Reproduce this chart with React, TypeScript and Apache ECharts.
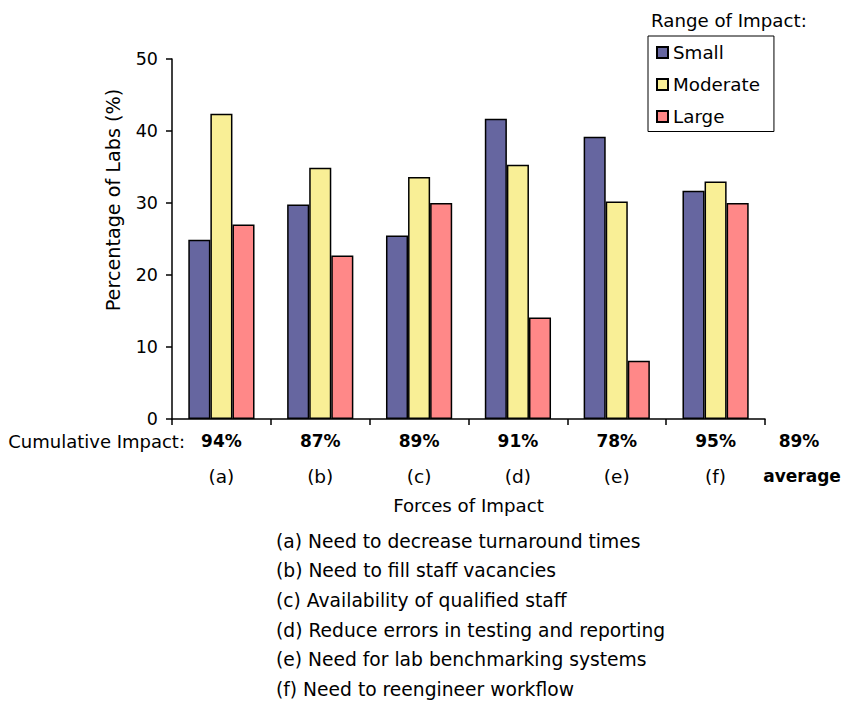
import React, { useEffect, useRef } from "react";
import * as echarts from "echarts";

const categories = ["(a)", "(b)", "(c)", "(d)", "(e)", "(f)"];
const cumulative = ["94%", "87%", "89%", "91%", "78%", "95%"];
const averageLabel = "89%";
const seriesNames = ["Small", "Moderate", "Large"];
const small = [24.9, 29.8, 25.5, 41.7, 39.2, 31.7];
const moderate = [42.4, 34.9, 33.6, 35.3, 30.2, 33.0];
const large = [27.0, 22.7, 30.0, 14.1, 8.1, 30.0];
const footnotes = [
  "(a) Need to decrease turnaround times",
  "(b) Need to fill staff vacancies",
  "(c) Availability of qualified staff",
  "(d) Reduce errors in testing and reporting",
  "(e) Need for lab benchmarking systems",
  "(f) Need to reengineer workflow",
];

const FONT = "DejaVu Sans";
const colors = ["#6666A0", "#F9EF96", "#FF8888"];

export default function App() {
  const ref = useRef<HTMLDivElement>(null);
  useEffect(() => {
    if (!ref.current) return;
    const chart = echarts.init(ref.current, undefined, { renderer: "svg" });
    const values = [small, moderate, large];
    chart.setOption({
      animation: false,
      backgroundColor: "#ffffff",
      textStyle: { fontFamily: FONT, color: "#000" },
      title: {
        text: "Range of Impact:",
        left: 646,
        top: 6,
        textStyle: { fontFamily: FONT, fontSize: 18.2, fontWeight: "normal", color: "#000" },
      },
      legend: {
        orient: "vertical",
        left: 648,
        top: 36,
        padding: [7.5, 14, 6, 8],
        itemGap: 14,
        itemWidth: 11,
        itemHeight: 11,
        icon: "rect",
        borderColor: "#000",
        borderWidth: 1,
        backgroundColor: "#fff",
        data: seriesNames,
        textStyle: { fontFamily: FONT, fontSize: 18.3, color: "#000" },
      },
      grid: { left: 172, right: 79, top: 59, bottom: 282, containLabel: false },
      xAxis: {
        type: "category",
        data: categories,
        name: "Forces of Impact",
        nameLocation: "middle",
        nameGap: 77,
        nameMoveOverlap: false,
        nameTextStyle: { fontFamily: FONT, fontSize: 18.2, color: "#000" },
        axisLine: { lineStyle: { color: "#000", width: 1.5 } },
        axisTick: { show: true, length: 6, lineStyle: { color: "#000", width: 1.5 } },
        axisLabel: {
          margin: 8,
          interval: 0,
          formatter: (v: string, i: number) => `{b|${cumulative[i]}}\n{n|${v}}`,
          rich: {
            b: { fontFamily: FONT, fontSize: 17, fontWeight: "bold", color: "#000", lineHeight: 28 },
            n: { fontFamily: FONT, fontSize: 18.5, color: "#000", lineHeight: 42 },
          },
        },
      },
      yAxis: {
        type: "value",
        min: 0,
        max: 50,
        interval: 10,
        splitLine: { show: false },
        axisLine: { show: true, lineStyle: { color: "#000", width: 1.5 } },
        axisTick: { show: true, length: 6, lineStyle: { color: "#000", width: 1.5 } },
        axisLabel: { margin: 14, fontFamily: FONT, fontSize: 17.5, color: "#000" },
      },
      series: seriesNames.map((name, k) => ({
        name,
        type: "bar",
        data: values[k],
        barGap: "0%",
        barCategoryGap: "33%",
        itemStyle: {
          color: colors[k],
          borderColor: "#000",
          borderWidth: 1.5,
        },
      })),
      graphic: [
        {
          type: "text",
          x: 113,
          y: 200,
          rotation: Math.PI / 2,
          style: {
            text: "Percentage of Labs (%)",
            fontFamily: FONT,
            fontSize: 19.2,
            fill: "#000",
            align: "center",
            verticalAlign: "middle",
          },
        },
        {
          type: "text",
          x: 185,
          y: 441,
          style: {
            text: "Cumulative Impact:",
            fontFamily: FONT,
            fontSize: 18,
            fill: "#000",
            align: "right",
            verticalAlign: "middle",
          },
        },
        {
          type: "text",
          x: 799,
          y: 441,
          style: {
            text: averageLabel,
            fontFamily: FONT,
            fontSize: 17,
            fontWeight: "bold",
            fill: "#000",
            align: "center",
            verticalAlign: "middle",
          },
        },
        {
          type: "text",
          x: 802,
          y: 476,
          style: {
            text: "average",
            fontFamily: FONT,
            fontSize: 17,
            fontWeight: "bold",
            fill: "#000",
            align: "center",
            verticalAlign: "middle",
          },
        },
        {
          type: "text",
          x: 276,
          y: 526.5,
          style: {
            text: footnotes.join("\n"),
            fontFamily: FONT,
            fontSize: 18.7,
            lineHeight: 29.6,
            fill: "#000",
            align: "left",
            verticalAlign: "top",
          },
        },
      ],
    });
    return () => chart.dispose();
  }, []);
  return (
    <div
      ref={ref}
      style={{ position: "fixed", left: 0, top: 0, width: 844, height: 701 }}
    />
  );
}
